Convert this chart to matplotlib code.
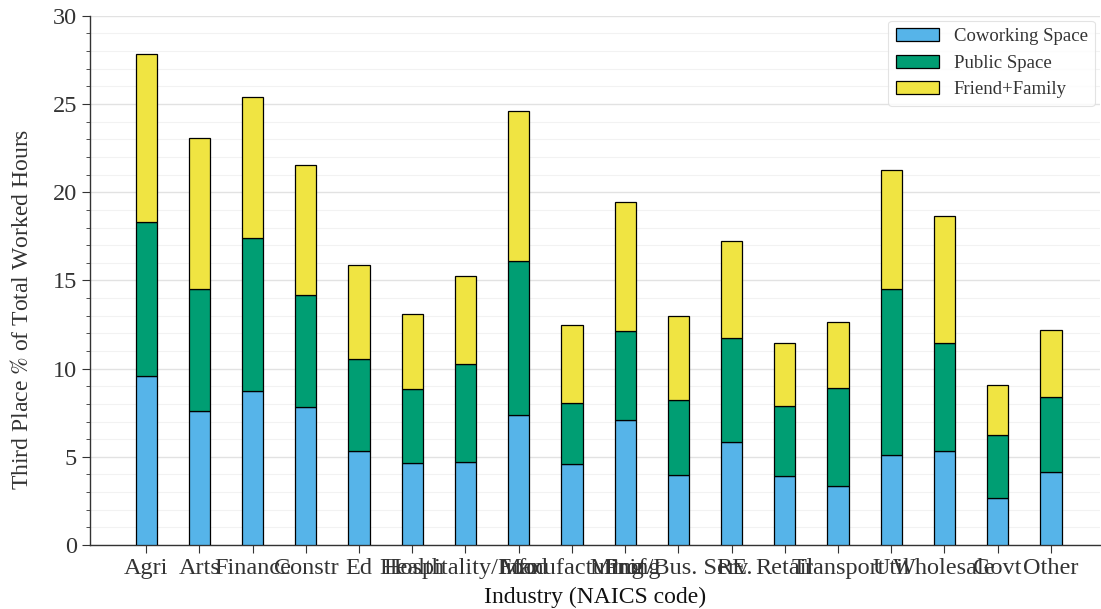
import matplotlib
matplotlib.use("Agg")
import matplotlib.pyplot as plt
import numpy as np

plt.rcParams['font.family'] = ['Liberation Serif', 'DejaVu Serif']
plt.rcParams['mathtext.fontset'] = 'stix'

industries = ['Agri', 'Arts', 'Finance', 'Constr', 'Ed', 'Health', 'Hospitality/Food',
              'Info', 'Manufacturing', 'Mining', 'Prof/Bus. Serv.', 'RE', 'Retail',
              'Transport', 'Util', 'Wholesale', 'Govt', 'Other']
coworking = [9.57, 7.61, 8.71, 7.84, 5.34, 4.66, 4.72, 7.35, 4.61, 7.07, 3.95, 5.82,
             3.93, 3.36, 5.12, 5.33, 2.65, 4.14]
public = [8.75, 6.89, 8.70, 6.34, 5.18, 4.18, 5.53, 8.76, 3.47, 5.04, 4.28, 5.89,
          3.93, 5.57, 9.42, 6.15, 3.57, 4.23]
friend_family = [9.50, 8.58, 8.01, 7.39, 5.34, 4.25, 5.01, 8.52, 4.37, 7.36, 4.73, 5.50,
                 3.57, 3.69, 6.72, 7.20, 2.83, 3.81]

x = np.arange(len(industries))
cw = np.array(coworking)
ps = np.array(public)
ff = np.array(friend_family)

fig = plt.figure(figsize=(11.01, 6.09), dpi=100)
ax = fig.add_axes([0.082, 0.105, 0.917, 0.869])

width = 0.4
ax.bar(x, cw, width, color='#56B4E9', edgecolor='black', linewidth=0.9,
       label='Coworking Space', zorder=3)
ax.bar(x, ps, width, bottom=cw, color='#009E73', edgecolor='black', linewidth=0.9,
       label='Public Space', zorder=3)
ax.bar(x, ff, width, bottom=cw + ps, color='#F0E442', edgecolor='black', linewidth=0.9,
       label='Friend+Family', zorder=3)

ax.set_xlim(-1.05, 17.92)
ax.set_ylim(0, 30)
ax.set_yticks(np.arange(0, 31, 5))
ax.set_yticks(np.arange(0, 31, 1), minor=True)
ax.set_xticks(x)
ax.set_xticklabels(industries)

ax.grid(axis='y', which='major', color='#e2e2e2', linewidth=1.0, zorder=0)
ax.grid(axis='y', which='minor', color='#f2f2f2', linewidth=0.8, zorder=0)
ax.set_axisbelow(True)

for side in ['top', 'right']:
    ax.spines[side].set_visible(False)
for side in ['left', 'bottom']:
    ax.spines[side].set_color('#333333')
    ax.spines[side].set_linewidth(1.0)

ax.tick_params(axis='both', which='major', labelsize=17.5, length=6, color='#333333',
               labelcolor='#333333')
ax.tick_params(axis='x', which='major', pad=3)
ax.tick_params(axis='y', which='minor', length=3, color='#333333')

ax.set_xlabel('Industry (NAICS code)', fontsize=17, color='#111111', labelpad=6)
ax.set_ylabel('Third Place $\\%$ of Total Worked Hours', fontsize=17, color='#333333')
ax.yaxis.set_label_coords(-0.057, 0.445)

leg = ax.legend(loc='upper right', fontsize=13.5, frameon=True, fancybox=True,
                handlelength=2.3, borderaxespad=0.25)
leg.get_frame().set_edgecolor('#dddddd')
leg.get_frame().set_linewidth(0.8)
for t in leg.get_texts():
    t.set_color('#333333')

fig.savefig('out.png', dpi=100)
